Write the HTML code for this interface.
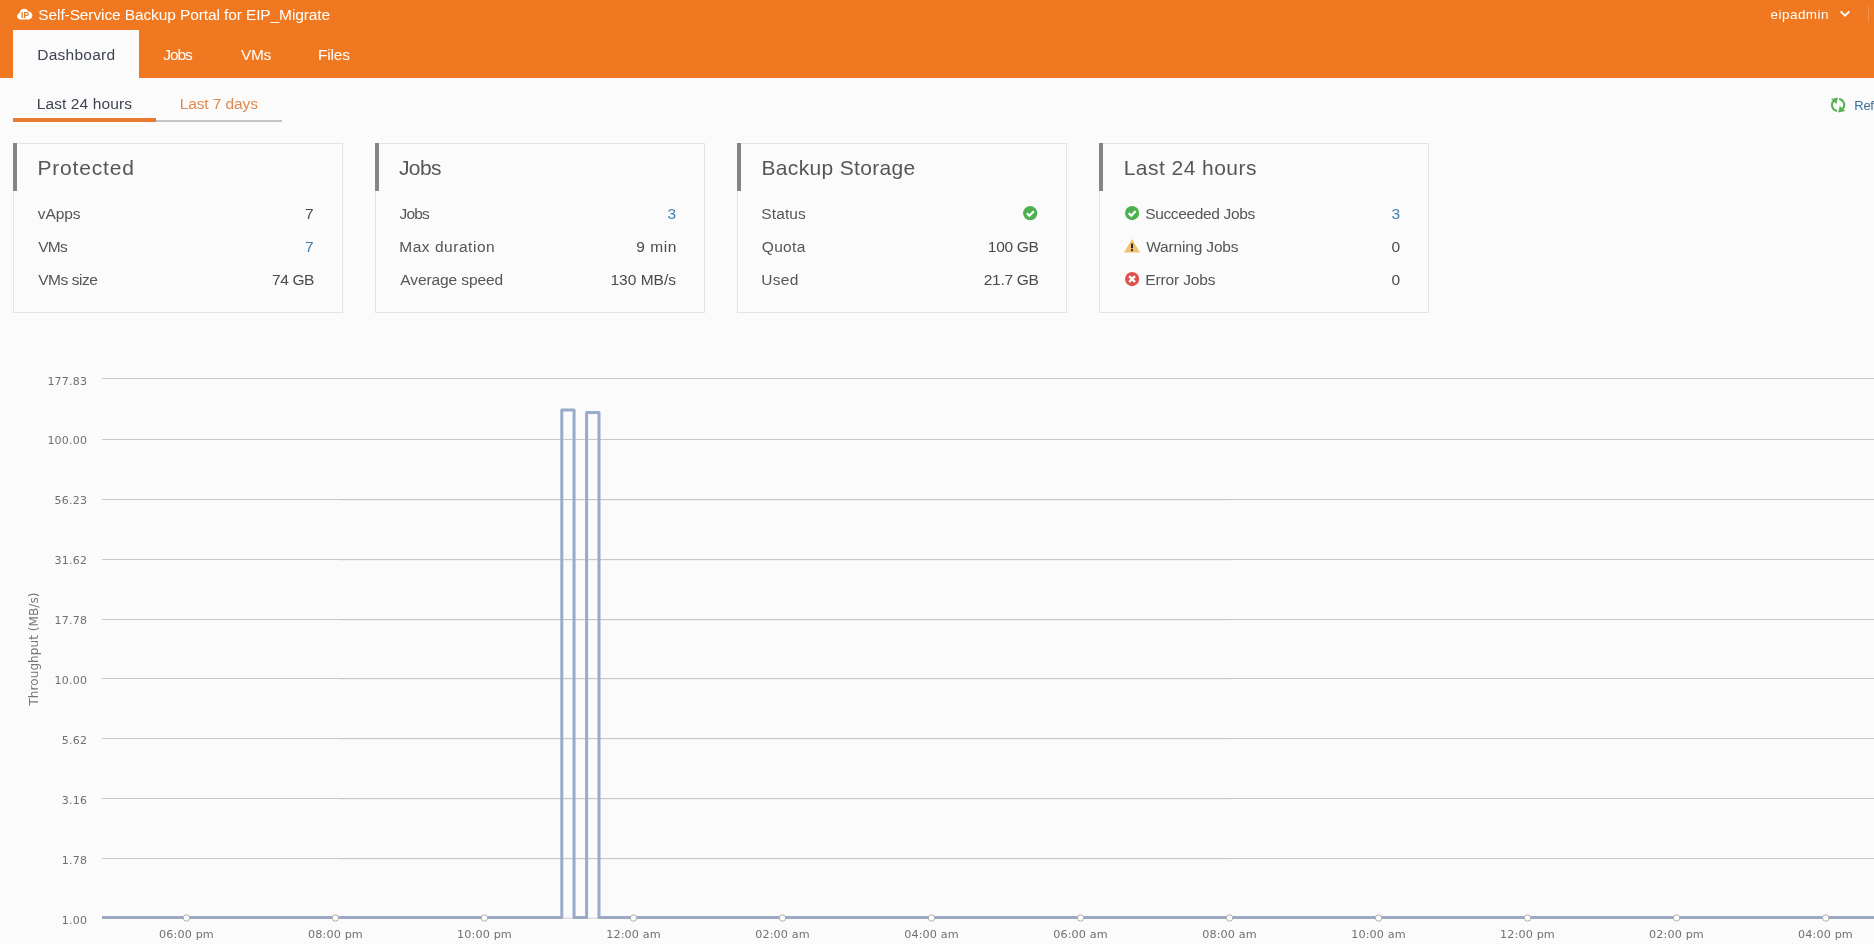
<!DOCTYPE html>
<html lang="en">
<head>
<meta charset="utf-8">
<title>Self-Service Backup Portal for EIP_Migrate</title>
<style>
*{box-sizing:border-box;margin:0;padding:0}
html,body{width:1874px;height:944px;overflow:hidden;background:#fbfbfb}
body{position:relative;font-family:"Liberation Sans",sans-serif;color:#4a4a4a}
.t{position:absolute;white-space:nowrap;line-height:1;font-weight:400}
#tx{left:0;top:0;width:1874px;height:944px;will-change:transform}
.a{position:absolute}
#hdr{left:0;top:0;width:1874px;height:78px;background:#f07820}
#tab{left:13px;top:30px;width:126px;height:48px;background:#fbfbfb}
#sep{left:1868px;top:6px;width:1px;height:16px;background:#f39152}
#ul1{left:13px;top:118px;width:143px;height:4px;background:#e87a2c}
#ul2{left:156px;top:120px;width:126px;height:2px;background:#c4c4c4}
.card{position:absolute;top:143px;width:330px;height:170px;border:1px solid #e4e4e4}
.card i{position:absolute;left:-1px;top:-1px;width:4px;height:48px;background:#858585}
#chart{left:0;top:340px}
#chart text{font-family:"DejaVu Sans","Liberation Sans",sans-serif;fill:#707070}
</style>
</head>
<body>
<div class="a" id="hdr"></div>
<div class="a" id="tab"></div>
<div class="a" id="sep"></div>
<div class="a" id="ul1"></div><div class="a" id="ul2"></div>
<div class="card" style="left:13px"><i></i></div>
<div class="card" style="left:375px"><i></i></div>
<div class="card" style="left:737px"><i></i></div>
<div class="card" style="left:1099px"><i></i></div>

<div class="a" id="tx">
<svg class="a" style="left:17px;top:8px" width="16" height="12" viewBox="0 0 16 12">
  <path d="M3.6 11.4C1.7 11.4 0.2 10 0.2 8.2c0-1.5 1-2.7 2.4-3.1C2.9 2.6 4.8 0.8 7.2 0.8c1.9 0 3.5 1.1 4.2 2.8 2.2 0.1 4 1.8 4 3.9 0 2.2-1.8 3.9-4 3.9z" fill="#fff"/>
  <text x="4.1" y="9.8" font-family="Liberation Sans, sans-serif" font-weight="bold" font-size="8.2" fill="#e8761f" textLength="7.8" lengthAdjust="spacingAndGlyphs">IP</text>
</svg>
<svg class="a" style="left:1839px;top:9px" width="12" height="10" viewBox="0 0 12 10"><path d="M1.6 2.4L6 6.6L10.4 2.4" fill="none" stroke="#fff" stroke-width="2"/></svg>
<svg class="a" style="left:1830px;top:97.4px" width="16" height="16" viewBox="0 0 16 16">
  <g fill="#58b050">
    <path d="M7.17 13.94A6 6 0 0 1 4.31 3.27" fill="none" stroke="#58b050" stroke-width="2.1"/>
    <path d="M1 1.9L8 0.6L6.4 7z"/>
  </g>
  <g fill="#58b050" transform="rotate(180 8.1 8)">
    <path d="M7.17 13.94A6 6 0 0 1 4.31 3.27" fill="none" stroke="#58b050" stroke-width="2.1"/>
    <path d="M1 1.9L8 0.6L6.4 7z"/>
  </g>
</svg>
<svg class="a" style="left:1023px;top:206px" width="15" height="15" viewBox="0 0 15 15"><circle cx="7.2" cy="7.2" r="7.1" fill="#4fb04f"/><path d="M3.8 7.2L6.4 9.8L10.8 5.2" fill="none" stroke="#fff" stroke-width="2.2"/></svg>
<svg class="a" style="left:1125px;top:206px" width="15" height="15" viewBox="0 0 15 15"><circle cx="7.1" cy="7.1" r="7.1" fill="#4fb04f"/><path d="M3.7 7.1L6.3 9.7L10.7 5.1" fill="none" stroke="#fff" stroke-width="2.2"/></svg>
<svg class="a" style="left:1123px;top:238px" width="18" height="16" viewBox="0 0 18 16"><path d="M9 0.9L17 14.6H1z" fill="#f2c26e"/><rect x="8.1" y="5.6" width="1.9" height="4.6" fill="#222"/><rect x="8.1" y="11.2" width="1.9" height="1.9" fill="#222"/></svg>
<svg class="a" style="left:1125px;top:272px" width="15" height="15" viewBox="0 0 15 15"><circle cx="7.1" cy="7.1" r="7.1" fill="#dd524c"/><path d="M4.2 4.2L10 10M10 4.2L4.2 10" fill="none" stroke="#fff" stroke-width="2.4"/></svg>

<header>
<span class="t" id="ttl" style="left:38.32px;top:6.88px;font-size:15.5px;color:#fff;letter-spacing:-0.111px;">Self-Service Backup Portal for EIP_Migrate</span>
<span class="t" id="user" style="left:1770.61px;top:7.57px;font-size:13.5px;color:#fff;letter-spacing:0.446px;">eipadmin</span>
</header>
<nav>
<span class="t" id="n0" style="left:37.20px;top:46.88px;font-size:15.5px;color:#3d4450;letter-spacing:0.269px;">Dashboard</span>
<span class="t" id="n1" style="left:163.16px;top:46.88px;font-size:15.5px;color:#fff;letter-spacing:-1.013px;">Jobs</span>
<span class="t" id="n2" style="left:240.88px;top:46.88px;font-size:15.5px;color:#fff;letter-spacing:-0.284px;">VMs</span>
<span class="t" id="n3" style="left:317.97px;top:46.88px;font-size:15.5px;color:#fff;letter-spacing:-0.153px;">Files</span>
</nav>
<nav>
<span class="t" id="s1" style="left:36.73px;top:95.88px;font-size:15.5px;color:#3d4450;letter-spacing:0.108px;">Last 24 hours</span>
<span class="t" id="s2" style="left:179.71px;top:95.88px;font-size:15.5px;color:#de8a4c;letter-spacing:-0.107px;">Last 7 days</span>
</nav>
<section>
<h2 class="t" id="h1" style="left:37.47px;top:157.22px;font-size:21px;color:#565656;letter-spacing:0.813px;">Protected</h2>
<span class="t" id="a1" style="left:37.73px;top:205.88px;font-size:15.5px;color:#555555;letter-spacing:-0.049px;">vApps</span>
<span class="t" id="va1" style="left:305.11px;top:205.88px;font-size:15.5px;color:#4a4a4a;letter-spacing:0.000px;">7</span>
<span class="t" id="a2" style="left:38.20px;top:238.88px;font-size:15.5px;color:#555555;letter-spacing:-0.715px;">VMs</span>
<span class="t" id="va2" style="left:305.11px;top:238.88px;font-size:15.5px;color:#3d80ad;letter-spacing:0.000px;">7</span>
<span class="t" id="a3" style="left:38.20px;top:271.88px;font-size:15.5px;color:#555555;letter-spacing:-0.460px;">VMs size</span>
<span class="t" id="va3" style="left:271.98px;top:271.88px;font-size:15.5px;color:#4a4a4a;letter-spacing:-0.367px;">74 GB</span>
</section>
<section>
<h2 class="t" id="h2" style="left:399.03px;top:157.22px;font-size:21px;color:#565656;letter-spacing:-0.659px;">Jobs</h2>
<span class="t" id="b1" style="left:399.62px;top:205.88px;font-size:15.5px;color:#555555;letter-spacing:-0.835px;">Jobs</span>
<span class="t" id="vb1" style="left:667.49px;top:205.88px;font-size:15.5px;color:#3d80ad;letter-spacing:0.000px;">3</span>
<span class="t" id="b2" style="left:399.24px;top:238.88px;font-size:15.5px;color:#555555;letter-spacing:0.532px;">Max duration</span>
<span class="t" id="vb2" style="left:636.13px;top:238.88px;font-size:15.5px;color:#4a4a4a;letter-spacing:0.604px;">9 min</span>
<span class="t" id="b3" style="left:400.28px;top:271.88px;font-size:15.5px;color:#555555;letter-spacing:-0.095px;">Average speed</span>
<span class="t" id="vb3" style="left:610.44px;top:271.88px;font-size:15.5px;color:#4a4a4a;letter-spacing:0.018px;">130 MB/s</span>
</section>
<section>
<h2 class="t" id="h3" style="left:761.51px;top:157.22px;font-size:21px;color:#565656;letter-spacing:0.329px;">Backup Storage</h2>
<span class="t" id="c1" style="left:761.30px;top:205.88px;font-size:15.5px;color:#555555;letter-spacing:0.121px;">Status</span>
<span class="t" id="c2" style="left:761.77px;top:238.88px;font-size:15.5px;color:#555555;letter-spacing:0.333px;">Quota</span>
<span class="t" id="vc2" style="left:987.87px;top:238.88px;font-size:15.5px;color:#4a4a4a;letter-spacing:-0.310px;">100 GB</span>
<span class="t" id="c3" style="left:761.24px;top:271.88px;font-size:15.5px;color:#555555;letter-spacing:0.277px;">Used</span>
<span class="t" id="vc3" style="left:983.77px;top:271.88px;font-size:15.5px;color:#4a4a4a;letter-spacing:-0.294px;">21.7 GB</span>
</section>
<section>
<h2 class="t" id="h4" style="left:1123.74px;top:157.22px;font-size:21px;color:#565656;letter-spacing:0.454px;">Last 24 hours</h2>
<span class="t" id="d1" style="left:1145.17px;top:205.88px;font-size:15.5px;color:#555555;letter-spacing:-0.353px;">Succeeded Jobs</span>
<span class="t" id="vd1" style="left:1391.62px;top:205.88px;font-size:15.5px;color:#3d80ad;letter-spacing:0.000px;">3</span>
<span class="t" id="d2" style="left:1146.13px;top:238.88px;font-size:15.5px;color:#555555;letter-spacing:-0.160px;">Warning Jobs</span>
<span class="t" id="vd2" style="left:1391.51px;top:238.88px;font-size:15.5px;color:#4a4a4a;letter-spacing:0.000px;">0</span>
<span class="t" id="d3" style="left:1145.20px;top:271.88px;font-size:15.5px;color:#555555;letter-spacing:-0.125px;">Error Jobs</span>
<span class="t" id="vd3" style="left:1391.51px;top:271.88px;font-size:15.5px;color:#4a4a4a;letter-spacing:0.000px;">0</span>
</section>
<span class="t" id="ref" style="left:1854.3px;top:99.00px;font-size:13px;color:#3a6f98;letter-spacing:-0.3px">Refresh</span>
</div>
<svg class="a" id="chart" width="1874" height="604" viewBox="0 340 1874 604">
  <g id="grid" fill="#c8c8c8">
    <rect x="102" y="378" width="1772" height="1"/>
    <rect x="102" y="439" width="1772" height="1"/>
    <rect x="102" y="499" width="1772" height="1"/>
    <rect x="102" y="559" width="1772" height="1"/>
    <rect x="102" y="619" width="1772" height="1"/>
    <rect x="102" y="678" width="1772" height="1"/>
    <rect x="102" y="738" width="1772" height="1"/>
    <rect x="102" y="798" width="1772" height="1"/>
    <rect x="102" y="858" width="1772" height="1"/>
  </g>
  <g id="gridsh" fill="#f1f1f1">
    <rect x="339" y="500" width="891" height="1"/>
    <rect x="339" y="560" width="891" height="1"/>
    <rect x="339" y="620" width="891" height="1"/>
    <rect x="339" y="679" width="891" height="1"/>
    <rect x="339" y="739" width="891" height="1"/>
    <rect x="339" y="799" width="891" height="1"/>
    <rect x="339" y="859" width="891" height="1"/>
  </g>
  <g id="ylab" font-size="11" letter-spacing="0.2" text-anchor="end">
    <text x="87.1" y="385">177.83</text>
    <text x="87.1" y="444">100.00</text>
    <text x="87.1" y="504">56.23</text>
    <text x="87.1" y="564">31.62</text>
    <text x="87.1" y="624">17.78</text>
    <text x="87.1" y="684">10.00</text>
    <text x="87.1" y="744">5.62</text>
    <text x="87.1" y="804">3.16</text>
    <text x="87.1" y="864">1.78</text>
    <text x="87.1" y="924">1.00</text>
  </g>
  <text id="ytitle" font-size="12" letter-spacing="0.08" style="fill:#787878" text-anchor="middle" transform="translate(37.5 649) rotate(-90)">Throughput (MB/s)</text>
  <path id="series" d="M102 917.4H561.8V409.9H574.05V917.4H586.6V412.6H599V917.4H1874" fill="none" stroke="#9aaaca" stroke-width="3" stroke-linejoin="round"/>
  <rect x="102" y="917.6" width="1772" height="1" fill="#a8a8a8" opacity="0.55"/>
  <g id="marks" fill="#fff" stroke="#adadad" stroke-width="1">
    <circle cx="186.4" cy="918" r="3.2"/>
    <circle cx="335.4" cy="918" r="3.2"/>
    <circle cx="484.4" cy="918" r="3.2"/>
    <circle cx="633.5" cy="918" r="3.2"/>
    <circle cx="782.5" cy="918" r="3.2"/>
    <circle cx="931.5" cy="918" r="3.2"/>
    <circle cx="1080.5" cy="918" r="3.2"/>
    <circle cx="1229.6" cy="918" r="3.2"/>
    <circle cx="1378.6" cy="918" r="3.2"/>
    <circle cx="1527.6" cy="918" r="3.2"/>
    <circle cx="1676.6" cy="918" r="3.2"/>
    <circle cx="1825.7" cy="918" r="3.2"/>
  </g>
  <g id="xlab" font-size="11.2" letter-spacing="0.12" text-anchor="middle">
    <text x="186.5" y="938">06:00 pm</text>
    <text x="335.5" y="938">08:00 pm</text>
    <text x="484.5" y="938">10:00 pm</text>
    <text x="633.5" y="938">12:00 am</text>
    <text x="782.5" y="938">02:00 am</text>
    <text x="931.5" y="938">04:00 am</text>
    <text x="1080.5" y="938">06:00 am</text>
    <text x="1229.5" y="938">08:00 am</text>
    <text x="1378.5" y="938">10:00 am</text>
    <text x="1527.5" y="938">12:00 pm</text>
    <text x="1676.5" y="938">02:00 pm</text>
    <text x="1825.5" y="938">04:00 pm</text>
  </g>
</svg>

</body>
</html>
